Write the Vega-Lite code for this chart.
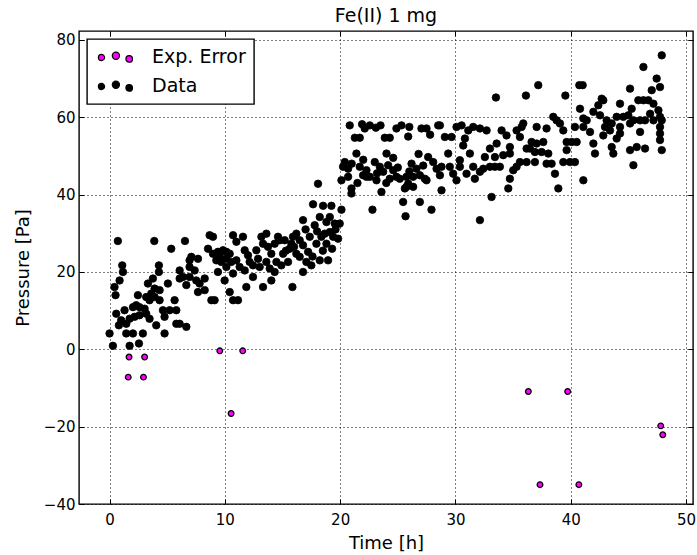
{
  "$schema": "https://vega.github.io/schema/vega-lite/v6.json",
  "width": 614,
  "height": 473,
  "autosize": "none",
  "padding": {"left": 79, "top": 31, "right": 4, "bottom": 51},
  "background": "white",
  "title": {"text": "Fe(II) 1 mg", "font": "DejaVu Sans", "fontSize": 19, "fontWeight": "normal", "color": "black", "offset": 5},
  "config": {
    "view": {"stroke": "black", "strokeWidth": 1.4},
    "axis": {
      "labelFont": "DejaVu Sans", "labelFontSize": 15, "labelColor": "black",
      "titleFont": "DejaVu Sans", "titleFontSize": 18, "titleFontWeight": "normal", "titleColor": "black",
      "domain": false, "tickColor": "black", "tickSize": -5, "tickWidth": 1,
      "gridColor": "black", "gridDash": [1, 3], "gridWidth": 1, "gridOpacity": 1
    },
    "legend": {"strokeWidth": 1.4}
  },
  "datasets": {
    "pts": [
      {"t":0.72,"p":28.0,"s":"Data"},{"t":3.88,"p":28.0,"s":"Data"},{"t":6.54,"p":28.0,"s":"Data"},{"t":5.35,"p":26.0,"s":"Data"},
      {"t":1.10,"p":21.7,"s":"Data"},{"t":1.16,"p":20.0,"s":"Data"},{"t":0.87,"p":17.8,"s":"Data"},{"t":0.43,"p":16.1,"s":"Data"},
      {"t":0.52,"p":14.0,"s":"Data"},{"t":0.0,"p":4.1,"s":"Data"},{"t":0.29,"p":0.9,"s":"Data"},{"t":1.30,"p":10.1,"s":"Data"},
      {"t":0.81,"p":6.2,"s":"Data"},{"t":1.01,"p":7.5,"s":"Data"},{"t":1.45,"p":4.1,"s":"Data"},{"t":2.03,"p":4.1,"s":"Data"},
      {"t":2.89,"p":4.1,"s":"Data"},{"t":1.74,"p":0.9,"s":"Data"},{"t":2.55,"p":1.5,"s":"Data"},{"t":1.74,"p":7.9,"s":"Data"},
      {"t":2.17,"p":8.4,"s":"Data"},{"t":2.60,"p":8.8,"s":"Data"},{"t":3.18,"p":9.2,"s":"Data"},{"t":2.31,"p":11.4,"s":"Data"},
      {"t":3.04,"p":10.5,"s":"Data"},{"t":3.47,"p":7.9,"s":"Data"},{"t":3.62,"p":14.4,"s":"Data"},{"t":3.91,"p":15.7,"s":"Data"},
      {"t":4.34,"p":15.3,"s":"Data"},{"t":3.33,"p":17.0,"s":"Data"},{"t":3.76,"p":18.3,"s":"Data"},{"t":4.28,"p":21.7,"s":"Data"},
      {"t":4.28,"p":20.0,"s":"Data"},{"t":5.06,"p":17.0,"s":"Data"},{"t":4.34,"p":12.7,"s":"Data"},{"t":4.63,"p":10.1,"s":"Data"},
      {"t":4.77,"p":8.4,"s":"Data"},{"t":5.21,"p":10.1,"s":"Data"},{"t":5.79,"p":10.1,"s":"Data"},{"t":5.64,"p":12.7,"s":"Data"},
      {"t":5.79,"p":6.6,"s":"Data"},{"t":6.08,"p":6.6,"s":"Data"},{"t":6.66,"p":5.8,"s":"Data"},{"t":4.05,"p":6.2,"s":"Data"},
      {"t":4.77,"p":4.1,"s":"Data"},{"t":2.46,"p":14.0,"s":"Data"},{"t":3.18,"p":13.5,"s":"Data"},{"t":3.47,"p":12.7,"s":"Data"},
      {"t":6.08,"p":18.3,"s":"Data"},{"t":6.37,"p":18.7,"s":"Data"},{"t":6.94,"p":21.3,"s":"Data"},{"t":7.09,"p":23.9,"s":"Data"},
      {"t":7.67,"p":23.4,"s":"Data"},{"t":6.94,"p":18.7,"s":"Data"},{"t":7.52,"p":17.8,"s":"Data"},{"t":7.81,"p":17.0,"s":"Data"},
      {"t":8.25,"p":18.3,"s":"Data"},{"t":8.25,"p":15.3,"s":"Data"},{"t":7.67,"p":14.8,"s":"Data"},{"t":8.83,"p":12.7,"s":"Data"},
      {"t":9.11,"p":12.7,"s":"Data"},{"t":8.54,"p":26.0,"s":"Data"},{"t":8.68,"p":29.5,"s":"Data"},{"t":8.97,"p":29.1,"s":"Data"},
      {"t":9.40,"p":25.2,"s":"Data"},{"t":9.84,"p":25.6,"s":"Data"},{"t":10.13,"p":25.2,"s":"Data"},{"t":9.69,"p":22.6,"s":"Data"},
      {"t":10.13,"p":23.4,"s":"Data"},{"t":10.56,"p":22.6,"s":"Data"},{"t":10.13,"p":21.3,"s":"Data"},{"t":9.40,"p":20.0,"s":"Data"},
      {"t":9.98,"p":17.8,"s":"Data"},{"t":10.42,"p":14.8,"s":"Data"},{"t":10.71,"p":12.7,"s":"Data"},{"t":11.14,"p":12.7,"s":"Data"},
      {"t":10.71,"p":29.5,"s":"Data"},{"t":11.0,"p":27.8,"s":"Data"},{"t":11.57,"p":29.1,"s":"Data"},{"t":11.72,"p":25.6,"s":"Data"},
      {"t":12.01,"p":24.3,"s":"Data"},{"t":12.15,"p":22.6,"s":"Data"},{"t":11.72,"p":20.4,"s":"Data"},{"t":12.44,"p":21.7,"s":"Data"},
      {"t":12.44,"p":18.7,"s":"Data"},{"t":11.86,"p":16.1,"s":"Data"},{"t":13.17,"p":29.1,"s":"Data"},{"t":13.6,"p":29.9,"s":"Data"},
      {"t":13.31,"p":27.3,"s":"Data"},{"t":13.74,"p":26.5,"s":"Data"},{"t":14.03,"p":24.7,"s":"Data"},{"t":14.32,"p":27.3,"s":"Data"},
      {"t":14.47,"p":22.6,"s":"Data"},{"t":14.32,"p":20.0,"s":"Data"},{"t":14.03,"p":17.8,"s":"Data"},{"t":13.31,"p":16.1,"s":"Data"},
      {"t":14.61,"p":29.1,"s":"Data"},{"t":8.97,"p":24.7,"s":"Data"},{"t":9.26,"p":23.0,"s":"Data"},{"t":9.55,"p":24.3,"s":"Data"},
      {"t":10.42,"p":24.7,"s":"Data"},{"t":11.0,"p":23.0,"s":"Data"},{"t":11.28,"p":21.3,"s":"Data"},{"t":10.71,"p":19.6,"s":"Data"},
      {"t":12.73,"p":25.6,"s":"Data"},{"t":12.88,"p":23.4,"s":"Data"},{"t":13.02,"p":21.3,"s":"Data"},{"t":13.6,"p":22.6,"s":"Data"},
      {"t":13.89,"p":20.9,"s":"Data"},{"t":6.94,"p":23.0,"s":"Data"},{"t":7.38,"p":20.4,"s":"Data"},{"t":6.08,"p":20.4,"s":"Data"},
      {"t":6.66,"p":16.6,"s":"Data"},{"t":3.91,"p":13.5,"s":"Data"},{"t":2.6,"p":10.9,"s":"Data"},{"t":1.45,"p":6.6,"s":"Data"},
      {"t":2.03,"p":10.9,"s":"Data"},{"t":0.58,"p":9.2,"s":"Data"},
      {"t":14.76,"p":28.2,"s":"Data"},{"t":14.9,"p":21.7,"s":"Data"},{"t":15.05,"p":24.7,"s":"Data"},{"t":15.19,"p":28.2,"s":"Data"},
      {"t":15.77,"p":27.3,"s":"Data"},{"t":15.86,"p":16.1,"s":"Data"},{"t":16.2,"p":29.9,"s":"Data"},{"t":16.49,"p":28.2,"s":"Data"},
      {"t":16.78,"p":26.9,"s":"Data"},{"t":17.22,"p":25.2,"s":"Data"},{"t":17.36,"p":29.1,"s":"Data"},{"t":16.2,"p":24.7,"s":"Data"},
      {"t":15.48,"p":22.6,"s":"Data"},{"t":16.78,"p":20.0,"s":"Data"},{"t":17.5,"p":21.7,"s":"Data"},{"t":18.23,"p":23.0,"s":"Data"},
      {"t":18.95,"p":23.0,"s":"Data"},{"t":16.78,"p":33.4,"s":"Data"},{"t":17.79,"p":32.1,"s":"Data"},{"t":18.23,"p":34.2,"s":"Data"},
      {"t":19.1,"p":34.2,"s":"Data"},{"t":18.81,"p":32.9,"s":"Data"},{"t":19.53,"p":32.5,"s":"Data"},{"t":19.96,"p":32.5,"s":"Data"},
      {"t":18.66,"p":29.9,"s":"Data"},{"t":19.39,"p":29.1,"s":"Data"},{"t":19.82,"p":28.6,"s":"Data"},{"t":19.1,"p":30.3,"s":"Data"},
      {"t":17.65,"p":37.5,"s":"Data"},{"t":18.52,"p":37.1,"s":"Data"},{"t":19.24,"p":37.1,"s":"Data"},{"t":20.11,"p":36.1,"s":"Data"},
      {"t":18.08,"p":42.8,"s":"Data"},{"t":15.91,"p":29.1,"s":"Data"},{"t":15.62,"p":26.0,"s":"Data"},{"t":17.94,"p":27.3,"s":"Data"},
      {"t":18.37,"p":29.1,"s":"Data"},{"t":16.49,"p":23.9,"s":"Data"},{"t":17.07,"p":22.6,"s":"Data"},{"t":18.81,"p":27.3,"s":"Data"},
      {"t":15.3,"p":25.5,"s":"Data"},{"t":16.0,"p":26.5,"s":"Data"},{"t":17.6,"p":24.0,"s":"Data"},{"t":18.5,"p":25.5,"s":"Data"},
      {"t":19.3,"p":26.0,"s":"Data"},{"t":19.6,"p":31.0,"s":"Data"},{"t":18.0,"p":30.5,"s":"Data"},{"t":17.0,"p":31.0,"s":"Data"},
      {"t":20.83,"p":57.9,"s":"Data"},{"t":22.13,"p":57.1,"s":"Data"},{"t":22.57,"p":57.9,"s":"Data"},{"t":23.5,"p":57.9,"s":"Data"},
      {"t":24.88,"p":57.1,"s":"Data"},{"t":25.32,"p":57.9,"s":"Data"},{"t":27.05,"p":57.1,"s":"Data"},{"t":27.49,"p":57.1,"s":"Data"},
      {"t":28.5,"p":57.9,"s":"Data"},{"t":21.27,"p":54.7,"s":"Data"},{"t":21.7,"p":54.7,"s":"Data"},{"t":23.87,"p":54.7,"s":"Data"},
      {"t":24.3,"p":54.7,"s":"Data"},{"t":21.41,"p":50.6,"s":"Data"},{"t":24.02,"p":50.6,"s":"Data"},{"t":20.4,"p":48.4,"s":"Data"},
      {"t":20.25,"p":47.2,"s":"Data"},{"t":20.69,"p":46.7,"s":"Data"},{"t":21.7,"p":47.2,"s":"Data"},{"t":21.99,"p":45.0,"s":"Data"},
      {"t":22.57,"p":44.6,"s":"Data"},{"t":23.0,"p":48.4,"s":"Data"},{"t":23.44,"p":47.2,"s":"Data"},{"t":23.73,"p":45.9,"s":"Data"},
      {"t":24.16,"p":47.6,"s":"Data"},{"t":24.6,"p":46.3,"s":"Data"},{"t":24.88,"p":44.6,"s":"Data"},{"t":25.17,"p":44.1,"s":"Data"},
      {"t":25.75,"p":44.6,"s":"Data"},{"t":26.19,"p":48.0,"s":"Data"},{"t":26.62,"p":46.7,"s":"Data"},{"t":26.91,"p":45.0,"s":"Data"},
      {"t":27.34,"p":44.1,"s":"Data"},{"t":27.63,"p":49.7,"s":"Data"},{"t":28.07,"p":48.4,"s":"Data"},{"t":28.36,"p":46.7,"s":"Data"},
      {"t":28.65,"p":45.0,"s":"Data"},{"t":27.49,"p":43.7,"s":"Data"},{"t":26.33,"p":42.0,"s":"Data"},{"t":25.61,"p":41.6,"s":"Data"},
      {"t":25.9,"p":42.8,"s":"Data"},{"t":20.11,"p":43.7,"s":"Data"},{"t":20.98,"p":41.6,"s":"Data"},{"t":20.98,"p":40.3,"s":"Data"},
      {"t":23.58,"p":40.7,"s":"Data"},{"t":25.46,"p":38.1,"s":"Data"},{"t":26.91,"p":38.1,"s":"Data"},{"t":22.8,"p":36.1,"s":"Data"},
      {"t":25.67,"p":34.4,"s":"Data"},{"t":27.92,"p":36.1,"s":"Data"},{"t":22.28,"p":44.6,"s":"Data"},{"t":23.15,"p":43.7,"s":"Data"},
      {"t":24.3,"p":44.1,"s":"Data"},{"t":20.69,"p":44.6,"s":"Data"},{"t":22.28,"p":46.3,"s":"Data"},{"t":25.75,"p":42.0,"s":"Data"},
      {"t":26.33,"p":44.6,"s":"Data"},{"t":21.0,"p":48.0,"s":"Data"},{"t":22.0,"p":49.0,"s":"Data"},{"t":23.2,"p":45.5,"s":"Data"},
      {"t":24.0,"p":43.0,"s":"Data"},{"t":25.0,"p":47.0,"s":"Data"},{"t":26.0,"p":46.0,"s":"Data"},{"t":27.2,"p":47.5,"s":"Data"},
      {"t":21.5,"p":43.0,"s":"Data"},{"t":26.8,"p":50.5,"s":"Data"},{"t":24.6,"p":49.5,"s":"Data"},{"t":21.9,"p":58.2,"s":"Data"},
      {"t":23.1,"p":57.3,"s":"Data"},{"t":26.0,"p":57.5,"s":"Data"},{"t":25.9,"p":55.0,"s":"Data"},{"t":27.8,"p":55.5,"s":"Data"},
      {"t":28.65,"p":57.9,"s":"Data"},{"t":29.08,"p":54.9,"s":"Data"},{"t":29.66,"p":54.9,"s":"Data"},{"t":29.37,"p":50.6,"s":"Data"},
      {"t":28.79,"p":47.2,"s":"Data"},{"t":29.51,"p":47.2,"s":"Data"},{"t":29.8,"p":45.4,"s":"Data"},{"t":30.09,"p":43.7,"s":"Data"},
      {"t":28.79,"p":41.1,"s":"Data"},{"t":32.12,"p":33.4,"s":"Data"},{"t":30.09,"p":57.5,"s":"Data"},{"t":30.53,"p":57.9,"s":"Data"},
      {"t":31.11,"p":56.6,"s":"Data"},{"t":31.54,"p":57.5,"s":"Data"},{"t":32.12,"p":57.1,"s":"Data"},{"t":32.7,"p":56.6,"s":"Data"},
      {"t":30.82,"p":54.5,"s":"Data"},{"t":30.67,"p":52.7,"s":"Data"},{"t":31.68,"p":44.1,"s":"Data"},{"t":32.12,"p":45.9,"s":"Data"},
      {"t":32.41,"p":46.7,"s":"Data"},{"t":32.99,"p":47.2,"s":"Data"},{"t":33.42,"p":47.2,"s":"Data"},{"t":33.85,"p":47.2,"s":"Data"},
      {"t":33.13,"p":39.4,"s":"Data"},{"t":32.99,"p":51.9,"s":"Data"},{"t":33.57,"p":53.2,"s":"Data"},{"t":34.0,"p":56.6,"s":"Data"},
      {"t":34.43,"p":55.3,"s":"Data"},{"t":34.72,"p":52.3,"s":"Data"},{"t":34.14,"p":50.2,"s":"Data"},{"t":33.42,"p":49.7,"s":"Data"},
      {"t":34.72,"p":50.6,"s":"Data"},{"t":35.3,"p":56.6,"s":"Data"},{"t":35.74,"p":57.5,"s":"Data"},{"t":35.88,"p":58.4,"s":"Data"},
      {"t":35.59,"p":54.9,"s":"Data"},{"t":36.17,"p":51.9,"s":"Data"},{"t":36.6,"p":53.6,"s":"Data"},{"t":37.04,"p":53.2,"s":"Data"},
      {"t":37.62,"p":53.6,"s":"Data"},{"t":36.46,"p":51.9,"s":"Data"},{"t":36.89,"p":51.0,"s":"Data"},{"t":37.47,"p":51.0,"s":"Data"},
      {"t":38.05,"p":50.6,"s":"Data"},{"t":35.59,"p":48.4,"s":"Data"},{"t":36.17,"p":48.4,"s":"Data"},{"t":36.89,"p":48.4,"s":"Data"},
      {"t":35.3,"p":47.2,"s":"Data"},{"t":35.01,"p":46.3,"s":"Data"},{"t":34.72,"p":44.1,"s":"Data"},{"t":34.58,"p":41.6,"s":"Data"},
      {"t":37.9,"p":48.0,"s":"Data"},{"t":38.34,"p":48.0,"s":"Data"},{"t":38.63,"p":45.4,"s":"Data"},{"t":38.92,"p":41.6,"s":"Data"},
      {"t":37.04,"p":57.5,"s":"Data"},{"t":37.9,"p":57.1,"s":"Data"},{"t":38.48,"p":60.1,"s":"Data"},{"t":38.77,"p":59.2,"s":"Data"},
      {"t":39.06,"p":58.4,"s":"Data"},{"t":39.35,"p":56.6,"s":"Data"},{"t":39.64,"p":53.6,"s":"Data"},{"t":39.64,"p":51.5,"s":"Data"},
      {"t":40.08,"p":53.6,"s":"Data"},{"t":40.51,"p":53.6,"s":"Data"},{"t":39.35,"p":48.4,"s":"Data"},{"t":39.93,"p":48.4,"s":"Data"},
      {"t":40.36,"p":48.4,"s":"Data"},{"t":41.09,"p":43.7,"s":"Data"},{"t":33.51,"p":65.1,"s":"Data"},{"t":36.11,"p":65.6,"s":"Data"},
      {"t":37.18,"p":68.3,"s":"Data"},{"t":39.53,"p":65.6,"s":"Data"},{"t":40.74,"p":68.3,"s":"Data"},{"t":41.03,"p":68.3,"s":"Data"},
      {"t":40.8,"p":62.2,"s":"Data"},{"t":41.09,"p":59.7,"s":"Data"},{"t":41.38,"p":59.2,"s":"Data"},{"t":41.96,"p":61.4,"s":"Data"},
      {"t":42.39,"p":63.1,"s":"Data"},{"t":42.82,"p":64.4,"s":"Data"},{"t":42.54,"p":60.5,"s":"Data"},{"t":43.11,"p":59.2,"s":"Data"},
      {"t":43.55,"p":58.4,"s":"Data"},{"t":43.98,"p":60.1,"s":"Data"},{"t":44.27,"p":63.5,"s":"Data"},{"t":44.56,"p":60.1,"s":"Data"},
      {"t":44.99,"p":60.5,"s":"Data"},{"t":45.28,"p":62.2,"s":"Data"},{"t":45.43,"p":59.2,"s":"Data"},{"t":45.86,"p":64.4,"s":"Data"},
      {"t":46.3,"p":64.4,"s":"Data"},{"t":46.73,"p":64.4,"s":"Data"},{"t":46.01,"p":59.2,"s":"Data"},{"t":46.44,"p":59.2,"s":"Data"},
      {"t":46.88,"p":60.9,"s":"Data"},{"t":47.17,"p":59.2,"s":"Data"},{"t":47.6,"p":61.8,"s":"Data"},{"t":47.74,"p":60.1,"s":"Data"},
      {"t":47.89,"p":59.2,"s":"Data"},{"t":47.17,"p":63.5,"s":"Data"},{"t":47.02,"p":67.0,"s":"Data"},{"t":47.74,"p":67.8,"s":"Data"},
      {"t":47.45,"p":70.0,"s":"Data"},{"t":46.3,"p":73.0,"s":"Data"},{"t":47.89,"p":76.0,"s":"Data"},{"t":45.14,"p":67.4,"s":"Data"},
      {"t":47.74,"p":57.5,"s":"Data"},{"t":47.74,"p":55.8,"s":"Data"},{"t":47.74,"p":54.1,"s":"Data"},{"t":47.89,"p":51.5,"s":"Data"},
      {"t":40.36,"p":57.5,"s":"Data"},{"t":41.09,"p":57.5,"s":"Data"},{"t":41.67,"p":56.2,"s":"Data"},{"t":41.96,"p":53.2,"s":"Data"},
      {"t":42.1,"p":50.6,"s":"Data"},{"t":42.82,"p":55.3,"s":"Data"},{"t":43.4,"p":56.6,"s":"Data"},{"t":43.55,"p":52.3,"s":"Data"},
      {"t":43.69,"p":50.6,"s":"Data"},{"t":43.98,"p":54.5,"s":"Data"},{"t":44.27,"p":57.5,"s":"Data"},{"t":45.14,"p":58.4,"s":"Data"},
      {"t":45.72,"p":52.3,"s":"Data"},{"t":46.01,"p":56.2,"s":"Data"},{"t":46.44,"p":51.9,"s":"Data"},{"t":45.14,"p":51.5,"s":"Data"},
      {"t":45.43,"p":47.6,"s":"Data"},{"t":42.68,"p":64.8,"s":"Data"},{"t":42.97,"p":57.5,"s":"Data"},{"t":44.27,"p":55.8,"s":"Data"},
      {"t":30.38,"p":48.9,"s":"Data"},{"t":31.25,"p":50.6,"s":"Data"},{"t":31.54,"p":47.2,"s":"Data"},{"t":30.96,"p":45.4,"s":"Data"},
      {"t":32.55,"p":49.7,"s":"Data"},{"t":30.38,"p":47.2,"s":"Data"},
      {"t":1.69,"p":-2.0,"s":"Exp. Error"},{"t":3.04,"p":-2.0,"s":"Exp. Error"},{"t":1.62,"p":-7.2,"s":"Exp. Error"},
      {"t":2.94,"p":-7.2,"s":"Exp. Error"},{"t":9.56,"p":-0.4,"s":"Exp. Error"},{"t":11.55,"p":-0.4,"s":"Exp. Error"},
      {"t":10.54,"p":-16.6,"s":"Exp. Error"},{"t":36.32,"p":-10.9,"s":"Exp. Error"},{"t":39.73,"p":-10.9,"s":"Exp. Error"},
      {"t":37.33,"p":-35.0,"s":"Exp. Error"},{"t":40.7,"p":-35.0,"s":"Exp. Error"},{"t":47.8,"p":-19.8,"s":"Exp. Error"},
      {"t":47.98,"p":-22.1,"s":"Exp. Error"}
    ]
  },
  "data": {"name": "pts"},
  "layer": [
    {
      "transform": [{"filter": "datum.s === 'Data'"}],
      "mark": {"type": "point", "shape": "circle", "filled": true, "size": 56, "stroke": "black", "strokeWidth": 0.8, "opacity": 1},
      "encoding": {
        "x": {"field": "t", "type": "quantitative", "scale": {"domain": [-2.65, 50.6], "nice": false, "zero": false},
              "axis": {"orient": "bottom", "values": [0, 10, 20, 30, 40, 50], "title": "Time [h]", "labelPadding": 13, "titlePadding": 7}},
        "y": {"field": "p", "type": "quantitative", "scale": {"domain": [-40, 82.3], "nice": false, "zero": false},
              "axis": {"orient": "left", "values": [-40, -20, 0, 20, 40, 60, 80], "title": "Pressure [Pa]", "labelPadding": 9, "titlePadding": 11}},
        "fill": {"field": "s", "type": "nominal",
                 "scale": {"domain": ["Exp. Error", "Data"], "range": ["#ff00ff", "#000000"]},
                 "legend": {"orient": "top-left", "offset": 8, "title": null, "padding": 8,
                            "strokeColor": "black", "fillColor": "white", "cornerRadius": 0,
                            "labelFont": "DejaVu Sans", "labelFontSize": 19, "labelColor": "black",
                            "symbolType": "M-6.1 1a3.1 3.1 0 1 0 6.2 0a3.1 3.1 0 1 0 -6.2 0ZM7.8 -0.7a3.6 3.6 0 1 0 7.2 0a3.6 3.6 0 1 0 -7.2 0ZM21.4 2.4a3.3 3.3 0 1 0 6.6 0a3.3 3.3 0 1 0 -6.6 0Z",
                            "symbolSize": 4, "symbolStrokeColor": "black", "symbolStrokeWidth": 1.2,
                            "labelOffset": 38, "rowPadding": 9}}
      }
    },
    {
      "transform": [{"filter": "datum.s === 'Exp. Error'"}],
      "mark": {"type": "point", "shape": "circle", "filled": true, "size": 32, "stroke": "black", "strokeWidth": 1.3, "opacity": 1},
      "encoding": {
        "x": {"field": "t", "type": "quantitative",
              "axis": {"orient": "top", "values": [0, 10, 20, 30, 40, 50], "labels": false, "grid": false, "title": null}},
        "y": {"field": "p", "type": "quantitative",
              "axis": {"orient": "right", "values": [-40, -20, 0, 20, 40, 60, 80], "labels": false, "grid": false, "title": null}},
        "fill": {"field": "s", "type": "nominal"}
      }
    }
  ],
  "resolve": {"axis": {"x": "independent", "y": "independent"}}
}
